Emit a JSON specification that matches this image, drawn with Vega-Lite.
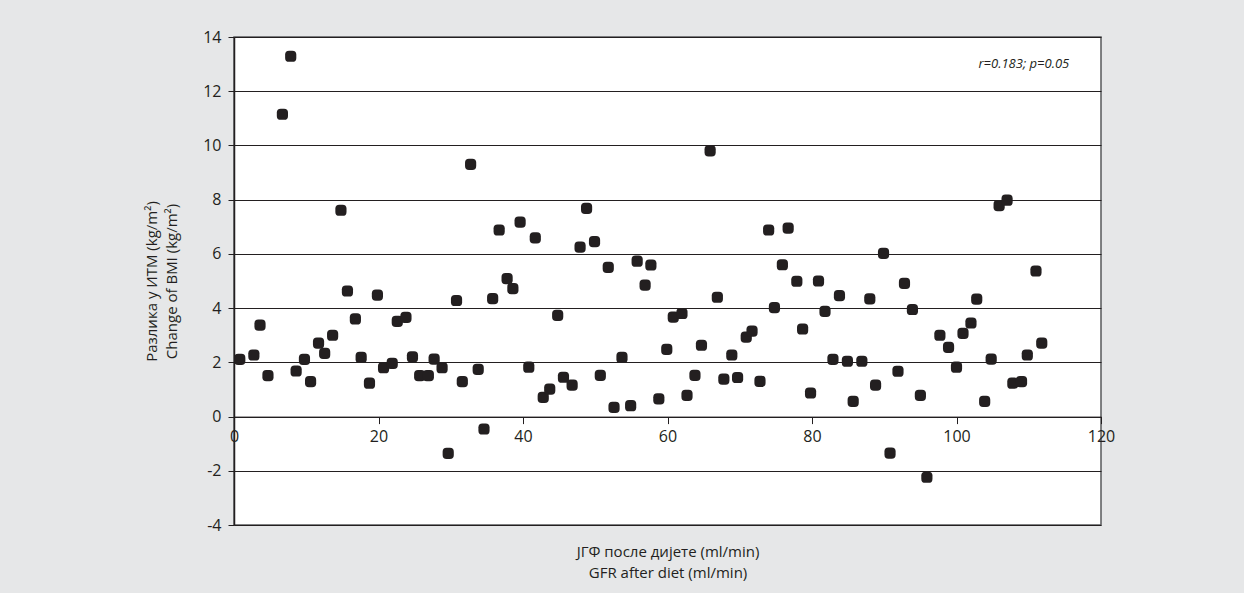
{
  "$schema": "https://vega.github.io/schema/vega-lite/v6.json",
  "width": 867,
  "height": 488,
  "autosize": {"type": "none"},
  "padding": {"left": 234, "top": 37, "right": 143, "bottom": 68},
  "background": "#e6e7e8",
  "config": {
    "font": "Open Sans",
    "view": {"fill": "white", "stroke": "#58595b", "strokeWidth": 1.5}
  },
  "layer": [
    {
      "data": {
        "values": [
          {"gfr": 0.8, "dbmi": 2.11}, {"gfr": 2.75, "dbmi": 2.27}, {"gfr": 3.6, "dbmi": 3.37},
          {"gfr": 4.7, "dbmi": 1.51}, {"gfr": 6.7, "dbmi": 11.15}, {"gfr": 7.85, "dbmi": 13.29},
          {"gfr": 8.6, "dbmi": 1.68}, {"gfr": 9.75, "dbmi": 2.11}, {"gfr": 10.6, "dbmi": 1.29},
          {"gfr": 11.7, "dbmi": 2.71}, {"gfr": 12.55, "dbmi": 2.33}, {"gfr": 13.65, "dbmi": 3.0},
          {"gfr": 14.8, "dbmi": 7.61}, {"gfr": 15.7, "dbmi": 4.63}, {"gfr": 16.8, "dbmi": 3.6},
          {"gfr": 17.6, "dbmi": 2.18}, {"gfr": 18.75, "dbmi": 1.23}, {"gfr": 19.85, "dbmi": 4.48},
          {"gfr": 20.7, "dbmi": 1.8}, {"gfr": 21.9, "dbmi": 1.96}, {"gfr": 22.6, "dbmi": 3.51},
          {"gfr": 23.8, "dbmi": 3.66}, {"gfr": 24.7, "dbmi": 2.2}, {"gfr": 25.7, "dbmi": 1.51},
          {"gfr": 26.9, "dbmi": 1.51}, {"gfr": 27.7, "dbmi": 2.12}, {"gfr": 28.8, "dbmi": 1.8},
          {"gfr": 29.65, "dbmi": -1.36}, {"gfr": 30.8, "dbmi": 4.28}, {"gfr": 31.6, "dbmi": 1.29},
          {"gfr": 32.75, "dbmi": 9.3}, {"gfr": 33.8, "dbmi": 1.74}, {"gfr": 34.6, "dbmi": -0.46},
          {"gfr": 35.8, "dbmi": 4.35}, {"gfr": 36.7, "dbmi": 6.88}, {"gfr": 37.8, "dbmi": 5.09},
          {"gfr": 38.6, "dbmi": 4.72}, {"gfr": 39.6, "dbmi": 7.17}, {"gfr": 40.8, "dbmi": 1.82},
          {"gfr": 41.7, "dbmi": 6.59}, {"gfr": 42.8, "dbmi": 0.71}, {"gfr": 43.7, "dbmi": 1.01},
          {"gfr": 44.8, "dbmi": 3.73}, {"gfr": 45.6, "dbmi": 1.45}, {"gfr": 46.8, "dbmi": 1.16},
          {"gfr": 47.9, "dbmi": 6.25}, {"gfr": 48.8, "dbmi": 7.68}, {"gfr": 49.9, "dbmi": 6.45},
          {"gfr": 50.7, "dbmi": 1.52}, {"gfr": 51.8, "dbmi": 5.5}, {"gfr": 52.6, "dbmi": 0.34},
          {"gfr": 53.7, "dbmi": 2.18}, {"gfr": 54.9, "dbmi": 0.4}, {"gfr": 55.8, "dbmi": 5.73},
          {"gfr": 56.9, "dbmi": 4.85}, {"gfr": 57.7, "dbmi": 5.59}, {"gfr": 58.8, "dbmi": 0.65},
          {"gfr": 59.9, "dbmi": 2.48}, {"gfr": 60.8, "dbmi": 3.67}, {"gfr": 62.0, "dbmi": 3.8},
          {"gfr": 62.7, "dbmi": 0.78}, {"gfr": 63.8, "dbmi": 1.52}, {"gfr": 64.7, "dbmi": 2.63},
          {"gfr": 65.9, "dbmi": 9.8}, {"gfr": 66.9, "dbmi": 4.4}, {"gfr": 67.8, "dbmi": 1.38},
          {"gfr": 68.9, "dbmi": 2.27}, {"gfr": 69.7, "dbmi": 1.44}, {"gfr": 70.9, "dbmi": 2.93},
          {"gfr": 71.7, "dbmi": 3.15}, {"gfr": 72.8, "dbmi": 1.3}, {"gfr": 74.0, "dbmi": 6.88},
          {"gfr": 74.8, "dbmi": 4.02}, {"gfr": 75.9, "dbmi": 5.6}, {"gfr": 76.7, "dbmi": 6.95},
          {"gfr": 77.9, "dbmi": 4.99}, {"gfr": 78.7, "dbmi": 3.23}, {"gfr": 79.8, "dbmi": 0.87},
          {"gfr": 80.9, "dbmi": 5.0}, {"gfr": 81.8, "dbmi": 3.88}, {"gfr": 82.9, "dbmi": 2.11},
          {"gfr": 83.8, "dbmi": 4.46}, {"gfr": 84.9, "dbmi": 2.04}, {"gfr": 85.7, "dbmi": 0.56},
          {"gfr": 86.9, "dbmi": 2.04}, {"gfr": 88.0, "dbmi": 4.34}, {"gfr": 88.8, "dbmi": 1.16},
          {"gfr": 89.9, "dbmi": 6.02}, {"gfr": 90.8, "dbmi": -1.35}, {"gfr": 91.9, "dbmi": 1.67},
          {"gfr": 92.8, "dbmi": 4.91}, {"gfr": 93.9, "dbmi": 3.95}, {"gfr": 95.0, "dbmi": 0.78},
          {"gfr": 95.9, "dbmi": -2.24}, {"gfr": 97.7, "dbmi": 3.0}, {"gfr": 98.9, "dbmi": 2.55},
          {"gfr": 100.0, "dbmi": 1.82}, {"gfr": 100.9, "dbmi": 3.07}, {"gfr": 102.0, "dbmi": 3.45},
          {"gfr": 102.8, "dbmi": 4.33}, {"gfr": 103.9, "dbmi": 0.56}, {"gfr": 104.8, "dbmi": 2.12},
          {"gfr": 105.9, "dbmi": 7.78}, {"gfr": 107.0, "dbmi": 7.98}, {"gfr": 107.8, "dbmi": 1.23},
          {"gfr": 109.0, "dbmi": 1.29}, {"gfr": 109.8, "dbmi": 2.27}, {"gfr": 111.0, "dbmi": 5.37},
          {"gfr": 111.8, "dbmi": 2.71}
        ]
      },
      "mark": {
        "type": "point",
        "shape": "M-1,-0.3 Q-1,-1 -0.3,-1 L0.3,-1 Q1,-1 1,-0.3 L1,0.3 Q1,1 0.3,1 L-0.3,1 Q-1,1 -1,0.3 Z",
        "filled": true,
        "color": "#231f20",
        "opacity": 1,
        "size": 125
      },
      "encoding": {
        "x": {
          "field": "gfr",
          "type": "quantitative",
          "scale": {"domain": [0, 120], "nice": false, "zero": false},
          "axis": {
            "values": [0, 20, 40, 60, 80, 100, 120],
            "offset": -108.4,
            "grid": false,
            "domainColor": "#231f20",
            "domainWidth": 1,
            "tickColor": "#231f20",
            "tickSize": 7,
            "labelFlush": false,
            "labelOverlap": false,
            "labelFontSize": 16,
            "labelColor": "#231f20",
            "labelPadding": 5,
            "title": ["ЈГФ после дијете (ml/min)", "GFR after diet (ml/min)"],
            "titleFontSize": 15,
            "titleFontWeight": "normal",
            "titleColor": "#231f20",
            "titleLineHeight": 21,
            "titlePadding": 100
          }
        },
        "y": {
          "field": "dbmi",
          "type": "quantitative",
          "scale": {"domain": [-4, 14], "nice": false, "zero": false},
          "axis": {
            "values": [-4, -2, 0, 2, 4, 6, 8, 10, 12, 14],
            "labelExpr": "datum.value < 0 ? '-' + abs(datum.value) : '' + datum.value",
            "grid": true,
            "gridColor": "#231f20",
            "gridWidth": 1,
            "domainColor": "#231f20",
            "domainWidth": 1.5,
            "tickColor": "#231f20",
            "tickSize": 6,
            "labelFontSize": 16,
            "labelColor": "#231f20",
            "labelPadding": 7,
            "title": ["Разлика у ИТМ (kg/m²)", "Change of BMI (kg/m²)"],
            "titleFontSize": 15,
            "titleFontWeight": "normal",
            "titleColor": "#231f20",
            "titleLineHeight": 20,
            "titlePadding": 23
          }
        }
      }
    },
    {
      "data": {"values": [{"gfr": 115.6, "dbmi": 13.0, "label": "r=0.183; p=0.05"}]},
      "mark": {"type": "text", "align": "right", "baseline": "middle", "fontStyle": "italic", "fontSize": 13, "color": "#231f20"},
      "encoding": {
        "x": {"field": "gfr", "type": "quantitative"},
        "y": {"field": "dbmi", "type": "quantitative"},
        "text": {"field": "label"}
      }
    }
  ]
}
